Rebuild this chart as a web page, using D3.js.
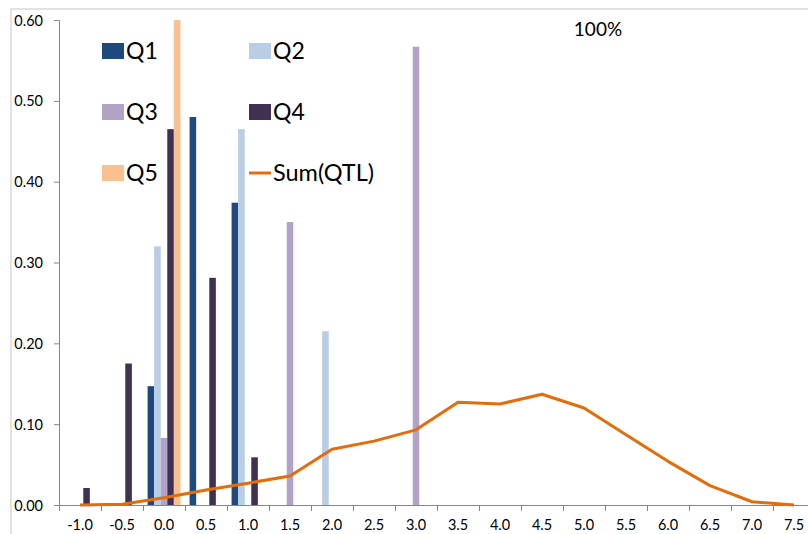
<!DOCTYPE html>
<html>
<head>
<meta charset="utf-8">
<script src="https://cdn.jsdelivr.net/npm/d3@7"></script>
<style>
body { margin:0; background:#fff; }
svg { display:block; font-family: Lato, "Open Sans", sans-serif; }
</style>
</head>
<body>
<div id="main"></div>
<script>
// categories on the x axis
const categories = ["-1.0","-0.5","0.0","0.5","1.0","1.5","2.0","2.5","3.0","3.5","4.0","4.5","5.0","5.5","6.0","6.5","7.0","7.5"]
const seriesNames = ["Q1","Q2","Q3","Q4","Q5"]

const q1 = [0,0,0.147,0.48,0.374,0,0,0,0,0,0,0,0,0,0,0,0,0]
const q2 = [0,0,0.32,0,0.465,0,0.215,0,0,0,0,0,0,0,0,0,0,0]
const q3 = [0,0,0.083,0,0,0.35,0,0,0.567,0,0,0,0,0,0,0,0,0]
const q4 = [0.021,0.175,0.465,0.281,0.059,0,0,0,0,0,0,0,0,0,0,0,0,0]
const q5 = [0,0,0.60,0,0,0,0,0,0,0,0,0,0,0,0,0,0,0]
const sumQTL = [0,0.001,0.009,0.0185,0.027,0.036,0.069,0.079,0.093,0.127,0.125,0.137,0.12,0.087,0.054,0.024,0.004,0]

const yTicks = [0,0.1,0.2,0.3,0.4,0.5,0.6]
const colors = ["#1f497d","#b9cde5","#b3a2c7","#403151","#fac090"]
const lineColor = "#e46c0a"

function initViz()
{
    let svg = d3.select("#main").append("svg").attr("width",808).attr("height",534)

    // chart frame (cut off on the right / bottom)
    svg.append("rect")
    .attr("x",11).attr("y",9).attr("width",900).attr("height",600)
    .attr("fill","none").attr("stroke","#d9d9d9").attr("stroke-width",1.5)

    let x = d3.scaleBand().domain(categories).range([59,815]).padding(0)
    let x1 = d3.scaleBand().domain(seriesNames).range([0,x.bandwidth()]).paddingInner(0).paddingOuter(0.7)
    let y = d3.scaleLinear().domain([0,0.6]).range([505,20])

    // y axis
    let yAxis = svg.append("g").attr("transform","translate(59,0)")
    .call(d3.axisLeft(y).tickValues(yTicks).tickSize(5).tickFormat(d3.format(".2f")))
    yAxis.select(".domain").attr("stroke","#868686")
    yAxis.selectAll(".tick line").attr("stroke","#868686")
    yAxis.selectAll("text").attr("x",-16).attr("dy","0.35em")
    .style("font-size","14.5px").attr("fill","#000").style("font-family","Lato")

    // x axis: ticks between categories
    svg.append("line").attr("x1",59).attr("x2",815).attr("y1",505.5).attr("y2",505.5)
    .attr("stroke","#868686")
    svg.selectAll(".xtick").data(categories).enter().append("line")
    .attr("class","xtick")
    .attr("x1",d => Math.round(x(d))+0.5).attr("x2",d => Math.round(x(d))+0.5)
    .attr("y1",505).attr("y2",511).attr("stroke","#868686")
    svg.selectAll(".xlab").data(categories).enter().append("text")
    .attr("class","xlab")
    .attr("x",d => x(d)+x.bandwidth()/2).attr("y",530)
    .attr("text-anchor","middle").style("font-size","14.5px").text(d => d)

    // bars
    let allSeries = [q1,q2,q3,q4,q5]
    allSeries.forEach((vals,i) => {
        svg.append("g").selectAll("rect")
        .data(vals.map((v,j) => ({cat:categories[j],v:v})).filter(d => d.v > 0))
        .enter().append("rect")
        .attr("x",d => x(d.cat)+x1(seriesNames[i]))
        .attr("width",x1.bandwidth())
        .attr("y",d => y(d.v))
        .attr("height",d => y(0)-y(d.v))
        .attr("fill",colors[i])
    })

    // Sum(QTL) line
    let lineGenerator = d3.line()
    .x((d,i) => x(categories[i])+x.bandwidth()/2)
    .y(d => y(d))
    svg.append("path").datum(sumQTL)
    .attr("d",lineGenerator)
    .attr("fill","none").attr("stroke",lineColor).attr("stroke-width",3)
    .attr("stroke-linejoin","round")

    // legend
    let legendPos = [[102,59],[249,59],[102,120],[249,120],[102,181]]
    seriesNames.forEach((s,i) => {
        let p = legendPos[i]
        svg.append("rect").attr("x",p[0]).attr("y",p[1]-16).attr("width",22).attr("height",16)
        .attr("fill",colors[i])
        svg.append("text").attr("x",p[0]+24).attr("y",p[1]).style("font-size","23px").text(s)
    })
    svg.append("line").attr("x1",249).attr("x2",271).attr("y1",173).attr("y2",173)
    .attr("stroke",lineColor).attr("stroke-width",3)
    svg.append("text").attr("x",273).attr("y",181).style("font-size","23.5px").text("Sum(QTL)")

    svg.append("text").attr("x",598).attr("y",36).attr("text-anchor","middle")
    .style("font-size","19px").text("100%")
}

initViz()
</script>
</body>
</html>
